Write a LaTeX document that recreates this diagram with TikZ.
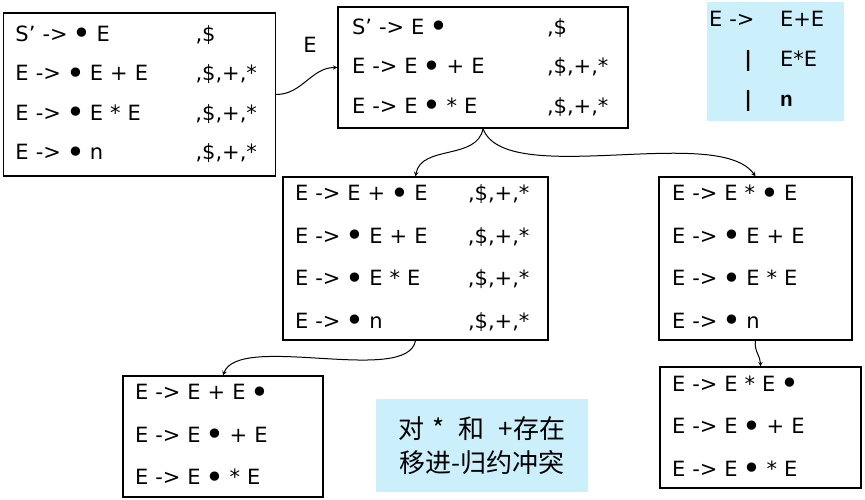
\documentclass[tikz,border=0pt]{standalone}
\usepackage{fontspec}
\setmainfont{DejaVu Sans}
\setmonofont{Liberation Mono}
\newfontfamily\cjk{Noto Sans CJK SC}
\usetikzlibrary{arrows, positioning}

\newcommand{\lhs}[2]{\makebox[#1][l]{#2}}
\newcommand{\dt}{\makebox[15pt]{\raisebox{-3.5pt}{\fontsize{32}{32}\selectfont •}}}

\begin{document}
\begin{tikzpicture}[x=1pt, y=1pt]
    \tikzstyle{state} = [rectangle, draw=black, line width=1.2pt, align=left, inner xsep=12pt, inner ysep=0pt]
    \tikzstyle{tall} = [font=\fontsize{21}{42.5}\selectfont, minimum height=163pt]
    \tikzstyle{short} = [font=\fontsize{21}{39.5}\selectfont, minimum height=121pt]
    \tikzstyle{note} = [rectangle, fill=cyan!20, inner sep=0pt]
    \tikzstyle{arrow} = [line width=1pt, ->, >=stealth]

    \useasboundingbox (0,0) rectangle (865,500);

    % item sets
    \node (I0) [state, text width=248pt, font=\fontsize{21}{39.5}\selectfont, minimum height=163pt] at (139.5,405.5)
        {\lhs{180pt}{S' -> \dt{} E},\$\\ \lhs{180pt}{E -> \dt{} E + E},\$,+,*\\ \lhs{180pt}{E -> \dt{} E * E},\$,+,*\\ \lhs{180pt}{E -> \dt{} n},\$,+,*};
    \node (I1) [state, short, text width=262pt, inner xsep=14pt] at (483,432.5)
        {\lhs{195pt}{S' -> E \dt},\$\\ \lhs{195pt}{E -> E \dt{} + E},\$,+,*\\ \lhs{195pt}{E -> E \dt{} * E},\$,+,*};
    \node (I2) [state, tall, text width=241pt] at (415.5,241.5)
        {\lhs{173pt}{E -> E + \dt{} E},\$,+,*\\ \lhs{173pt}{E -> \dt{} E + E},\$,+,*\\ \lhs{173pt}{E -> \dt{} E * E},\$,+,*\\ \lhs{173pt}{E -> \dt{} n},\$,+,*};
    \node (I3) [state, tall, text width=167pt, inner xsep=13pt] at (755.5,241.5)
        {E -> E * \dt{} E\\ E -> \dt{} E + E\\ E -> \dt{} E * E\\ E -> \dt{} n};
    \node (I4) [state, short, text width=176pt, font=\fontsize{21}{42.5}\selectfont] at (223,63.5)
        {E -> E + E \dt\\ E -> E \dt{} + E\\ E -> E \dt{} * E};
    \node (I5) [state, short, text width=177pt, font=\fontsize{21}{42.5}\selectfont] at (760.5,72.5)
        {E -> E * E \dt\\ E -> E \dt{} + E\\ E -> E \dt{} * E};

    % grammar and remark
    \node (gram) [note, minimum width=137pt, minimum height=119pt, text width=133pt, inner xsep=2pt, align=left,
        font=\fontsize{21}{40}\selectfont] at (775.5,438.5)
        {\lhs{71pt}{E ->}E+E\\ \makebox[71pt][r]{\textbf{|}\hspace{28pt}}E*E\\ \makebox[71pt][r]{\textbf{|}\hspace{28pt}}\texttt{\textbf{n}}};
    \node (remark) [note, minimum width=212pt, minimum height=93pt, align=center,
        font=\cjk\fontsize{26}{34}\selectfont] at (482,54.5)
        {对\hspace{8pt}*\hspace{14pt}和\hspace{14pt}+存在\\移进-归约冲突};

    \node (lblE) [font=\fontsize{21}{25}\selectfont] at (310,455) {E};

    \draw [arrow] (I0.east) to[out=0, in=180] (I1.west);
    \draw [arrow] (I1.south) to[out=-100, in=80] (I2.north);
    \draw [arrow] (I1.south) to[out=-70, in=125, looseness=0.6] (I3.north);
    \draw [arrow] (I2.south) to[out=-100, in=70, looseness=0.6] (I4.north);
    \draw [arrow] (I3.south) to[out=-100, in=90] (I5.north);
\end{tikzpicture}
\end{document}
